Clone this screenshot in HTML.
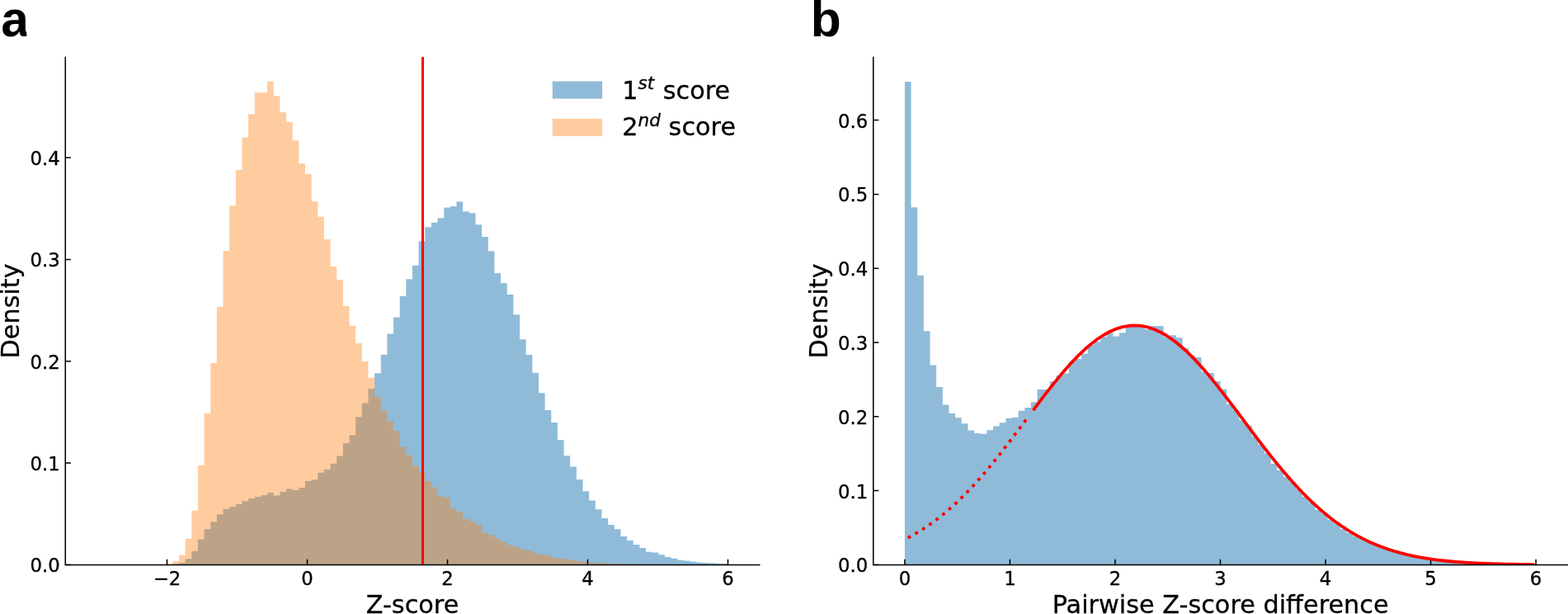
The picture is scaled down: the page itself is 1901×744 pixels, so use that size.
<!DOCTYPE html>
<html lang="en">
<head>
<meta charset="utf-8">
<title>Z-score distributions</title>
<style>
html,body{margin:0;padding:0;background:#fff;}
body{width:1901px;height:744px;overflow:hidden;}
svg{display:block;}
</style>
</head>
<body>
<svg width="1901" height="744" viewBox="0 0 1901 744" role="img" aria-label="Z-score histograms">
<rect width="1901" height="744" fill="#fff"/>
<g id="hist-a">
<path d="M209.3 684.4V683.6H216.95V682.3H224.6V677.3H232.25V667.8H239.9V653.4H247.55V641.2H255.2V632.2H262.85V623.3H270.5V616.7H278.15V613.9H285.8V610.9H293.45V607.2H301.1V604H308.75V602H316.4V599.9H324.05V596.9H331.7V600.5H339.35V596H347V592.6H354.65V594.1H362.3V591.1H369.95V583.1H377.6V581.2H385.25V572.8H392.9V568.9H400.55V561.8H408.2V552.6H415.85V537.1H423.5V527.3H431.15V505.2H438.8V488.6H446.45V471H454.1V452.3H461.75V429.7H469.4V404.5H477.05V384.5H484.7V358.8H492.35V338.2H500V321.8H507.65V292.2H515.3V275.2H522.95V269.8H530.6V264.2H538.25V251.5H545.9V250H553.55V244.2H561.2V256.2H568.85V258.2H576.5V272.2H584.15V287H591.8V304.2H599.45V330.9H607.1V343.1H614.75V356.9H622.4V381.2H630.05V411.3H637.7V430H645.35V451.7H653V476.2H660.65V497.1H668.3V511.9H675.95V532.9H683.6V552.3H691.25V565.6H698.9V581.1H706.55V595.3H714.2V606.5H721.85V617.2H729.5V628.1H737.15V636H744.8V641.2H752.45V649.9H760.1V655H767.75V660.1H775.4V664H783.05V668.8H790.7V669.5H798.35V672.2H806V674.9H813.65V676.8H821.3V678.7H828.95V679.6H836.6V680.6H844.25V681.5H851.9V682H859.55V682.3H867.2V682.7H874.85V683H882.5V684.4Z" fill="#1f77b4" fill-opacity="0.5"/>
<path d="M201.65 684.4V683.3H209.3V680.1H216.95V672.4H224.6V652.8H232.25V618.8H239.9V563.8H247.55V501.1H255.2V440H262.85V371.8H270.5V303.9H278.15V249.3H285.8V205.9H293.45V166.6H301.1V138.2H308.75V112.2H316.4V111.9H324.05V98.8H331.7V116.2H339.35V136H347V147.8H354.65V170.2H362.3V198.2H369.95V211.1H377.6V244H385.25V262.8H392.9V290.1H400.55V323H408.2V338.9H415.85V371H423.5V394.7H431.15V415.9H438.8V437.8H446.45V457.8H454.1V480.9H461.75V497.2H469.4V510.1H477.05V522.2H484.7V541.2H492.35V551.5H500V564H507.65V572.6H515.3V583.3H522.95V590.6H530.6V601H538.25V602.7H545.9V616.2H553.55V620.5H561.2V628.9H568.85V631.8H576.5V635.9H584.15V645.8H591.8V648.3H599.45V652.3H607.1V656.9H614.75V660.3H622.4V663.1H630.05V665.2H637.7V667.3H645.35V669.9H653V671.8H660.65V673H668.3V675.8H675.95V676.9H683.6V677.4H691.25V678.9H698.9V679.9H706.55V681H714.2V681.7H721.85V682.3H729.5V682.5H737.15V682.9H744.8V683.1H752.45V683.3H760.1V683.5H767.75V683.7H775.4V683.9H783.05V684.4Z" fill="#ff7f0e" fill-opacity="0.4"/>
</g>
<g id="hist-b">
<path d="M1096.9 684.4V99H1104.55V251.2H1112.2V333.8H1119.86V401.2H1127.51V442.5H1135.16V468.9H1142.81V490.6H1150.46V501H1158.11V506.3H1165.77V513.2H1173.42V521.6H1181.07V525.1H1188.72V525.7H1196.37V521.2H1204.03V516.5H1211.68V512.2H1219.33V506.8H1226.98V505.7H1234.63V497.7H1242.28V494.1H1249.94V487.2H1257.59V471.9H1265.24V471.9H1272.89V462.2H1280.54V455.1H1288.2V452.5H1295.85V438.5H1303.5V435H1311.15V428.6H1318.8V418.1H1326.45V414.1H1334.11V407.9H1341.76V402.5H1349.41V407.6H1357.06V403.2H1364.71V396H1372.36V395.7H1380.02V395.7H1387.67V398.9H1395.32V395H1402.97V394.9H1410.62V408.5H1418.28V406.2H1425.93V409.2H1433.58V421.9H1441.23V430.7H1448.88V433.1H1456.53V450.4H1464.19V452H1471.84V461.9H1479.49V471.4H1487.14V489.7H1494.79V497H1502.45V509.3H1510.1V516H1517.75V528.7H1525.4V538.9H1533.05V549.2H1540.7V562H1548.36V570H1556.01V577.9H1563.66V584.6H1571.31V592.7H1578.96V601.9H1586.62V608.87H1594.27V618.1H1601.92V622.38H1609.57V629.9H1617.22V634.7H1624.87V640.9H1632.53V646H1640.18V649.8H1647.83V652.73H1655.48V656.42H1663.13V659.77H1670.79V662.79H1678.44V665.5H1686.09V667.92H1693.74V670.09H1701.39V672.01H1709.04V673.71H1716.7V675.21H1724.35V676.52H1732V677.67H1739.65V678.67H1747.3V679.54H1754.95V680.29H1762.61V680.94H1770.26V681.5H1777.91V681.97H1785.56V682.37H1793.21V682.71H1800.87V683H1808.52V683.25H1816.17V683.45H1823.82V683.62H1831.47V683.76H1839.12V683.88H1846.78V683.98H1854.43V684.06H1862.08V684.4Z" fill="#1f77b4" fill-opacity="0.5"/>
</g>
<path d="M202.5 684.4v-6.65M372.5 684.4v-6.65M542.5 684.4v-6.65M712.5 684.4v-6.65M882.5 684.4v-6.65M79.25 684.4h6.65M79.25 561.07h6.65M79.25 437.75h6.65M79.25 314.43h6.65M79.25 191.1h6.65" stroke="#000" stroke-width="1.52" fill="none"/>
<path d="M1096.9 684.4v-6.65M1224.43 684.4v-6.65M1351.96 684.4v-6.65M1479.49 684.4v-6.65M1607.02 684.4v-6.65M1734.55 684.4v-6.65M1862.08 684.4v-6.65M1058.75 684.4h6.65M1058.75 594.6h6.65M1058.75 504.8h6.65M1058.75 415h6.65M1058.75 325.2h6.65M1058.75 235.4h6.65M1058.75 145.6h6.65" stroke="#000" stroke-width="1.52" fill="none"/>
<rect x="511" y="69" width="3" height="615.4" fill="#f00"/>
<clipPath id="cb"><rect x="1058.75" y="69.5" width="842.25" height="614.9"/></clipPath>
<g clip-path="url(#cb)" stroke="#f00" stroke-width="3.8" fill="none" stroke-linejoin="round">
<path d="M1100.73 651.76L1108.38 647.6L1116.03 643.05L1123.68 638.09L1131.33 632.72L1138.98 626.92L1146.64 620.68L1154.29 614.01L1161.94 606.89L1169.59 599.35L1177.24 591.39L1184.9 583.03L1192.55 574.29L1200.2 565.21L1207.85 555.81L1215.5 546.13L1223.15 536.23L1230.81 526.16L1238.46 515.98L1246.11 505.74" stroke-dasharray="3.8 6.22"/>
<path d="M1253.76 495.53L1261.41 485.41L1269.07 475.45L1276.72 465.73L1284.37 456.34L1292.02 447.35L1299.67 438.84L1307.32 430.88L1314.98 423.55L1322.63 416.92L1330.28 411.04L1337.93 405.98L1345.58 401.78L1353.24 398.49L1360.89 396.14L1368.54 394.76L1376.19 394.35L1383.84 394.92L1391.49 396.47L1399.15 398.98L1406.8 402.42L1414.45 406.76L1422.1 411.96L1429.75 417.97L1437.41 424.73L1445.06 432.17L1452.71 440.22L1460.36 448.82L1468.01 457.88L1475.66 467.33L1483.32 477.09L1490.97 487.08L1498.62 497.23L1506.27 507.45L1513.92 517.68L1521.57 527.85L1529.23 537.9L1536.88 547.76L1544.53 557.39L1552.18 566.74L1559.83 575.78L1567.49 584.45L1575.14 592.75L1582.79 600.64L1590.44 608.11L1598.09 615.15L1605.74 621.75L1613.4 627.92L1621.05 633.65L1628.7 638.95L1636.35 643.83L1644 648.32L1651.66 652.41L1659.31 656.14L1666.96 659.52L1674.61 662.57L1682.26 665.31L1689.91 667.76L1697.57 669.94L1705.22 671.89L1712.87 673.6L1720.52 675.12L1728.17 676.44L1735.83 677.61L1743.48 678.62L1751.13 679.49L1758.78 680.25L1766.43 680.91L1774.08 681.47L1781.74 681.94L1789.39 682.35L1797.04 682.7L1804.69 682.99L1812.34 683.24L1820 683.44L1827.65 683.61L1835.3 683.76L1842.95 683.88L1850.6 683.98L1858.25 684.06" stroke-linecap="square"/>
</g>
<g stroke="#000" stroke-width="1.52" fill="none" stroke-linecap="square">
<path d="M79.25 69.5V684.4H920.75"/>
<path d="M1058.75 69.5V684.4H1901"/>
</g>
<g font-family="'DejaVu Sans', 'Liberation Sans', sans-serif" font-size="22.75" fill="#000" stroke="#000" stroke-width="0.35" stroke-linejoin="round">
<text x="202.5" y="708.6" text-anchor="middle">−2</text>
<text x="372.5" y="708.6" text-anchor="middle">0</text>
<text x="542.5" y="708.6" text-anchor="middle">2</text>
<text x="712.5" y="708.6" text-anchor="middle">4</text>
<text x="882.5" y="708.6" text-anchor="middle">6</text>
<text x="72.65" y="693.4" text-anchor="end">0.0</text>
<text x="72.65" y="570.07" text-anchor="end">0.1</text>
<text x="72.65" y="446.75" text-anchor="end">0.2</text>
<text x="72.65" y="323.43" text-anchor="end">0.3</text>
<text x="72.65" y="200.1" text-anchor="end">0.4</text>
<text x="1096.9" y="708.6" text-anchor="middle">0</text>
<text x="1224.43" y="708.6" text-anchor="middle">1</text>
<text x="1351.96" y="708.6" text-anchor="middle">2</text>
<text x="1479.49" y="708.6" text-anchor="middle">3</text>
<text x="1607.02" y="708.6" text-anchor="middle">4</text>
<text x="1734.55" y="708.6" text-anchor="middle">5</text>
<text x="1862.08" y="708.6" text-anchor="middle">6</text>
<text x="1052.15" y="693.4" text-anchor="end">0.0</text>
<text x="1052.15" y="603.6" text-anchor="end">0.1</text>
<text x="1052.15" y="513.8" text-anchor="end">0.2</text>
<text x="1052.15" y="424" text-anchor="end">0.3</text>
<text x="1052.15" y="334.2" text-anchor="end">0.4</text>
<text x="1052.15" y="244.4" text-anchor="end">0.5</text>
<text x="1052.15" y="154.6" text-anchor="end">0.6</text>
</g>
<g font-family="'DejaVu Sans', 'Liberation Sans', sans-serif" font-size="30.3" fill="#000" stroke="#000" stroke-width="0.3" stroke-linejoin="round">
<text x="500" y="743.25" text-anchor="middle">Z-score</text>
<text x="1479.62" y="743.25" text-anchor="middle">Pairwise Z-score difference</text>
<text transform="translate(22.65 376.95) rotate(-90)" text-anchor="middle">Density</text>
<text transform="translate(1002.65 376.95) rotate(-90)" text-anchor="middle">Density</text>
<text x="754.3" y="120">1<tspan font-style="oblique" font-size="21.6" dy="-11.8">st</tspan><tspan dy="11.8" dx="0.8"> score</tspan></text>
<text x="754.3" y="164.3">2<tspan font-style="oblique" font-size="21.6" dy="-11.8">nd</tspan><tspan dy="11.8" dx="0"> score</tspan></text>
</g>
<rect x="669.8" y="98.5" width="60.3" height="21.1" fill="#1f77b4" fill-opacity="0.5"/>
<rect x="669.8" y="143.8" width="60.3" height="21.1" fill="#ff7f0e" fill-opacity="0.4"/>
<g font-family="'Liberation Sans', Arial, Helvetica, sans-serif" font-weight="bold" font-size="60.5" fill="#000">
<clipPath id="ca"><path d="M0 0H31.1V20L32.4 43.9H23.8V46H0Z"/></clipPath>
<text x="1.2" y="44" clip-path="url(#ca)">a</text>
<text x="982.85" y="44">b</text>
</g>
</svg>
</body>
</html>
